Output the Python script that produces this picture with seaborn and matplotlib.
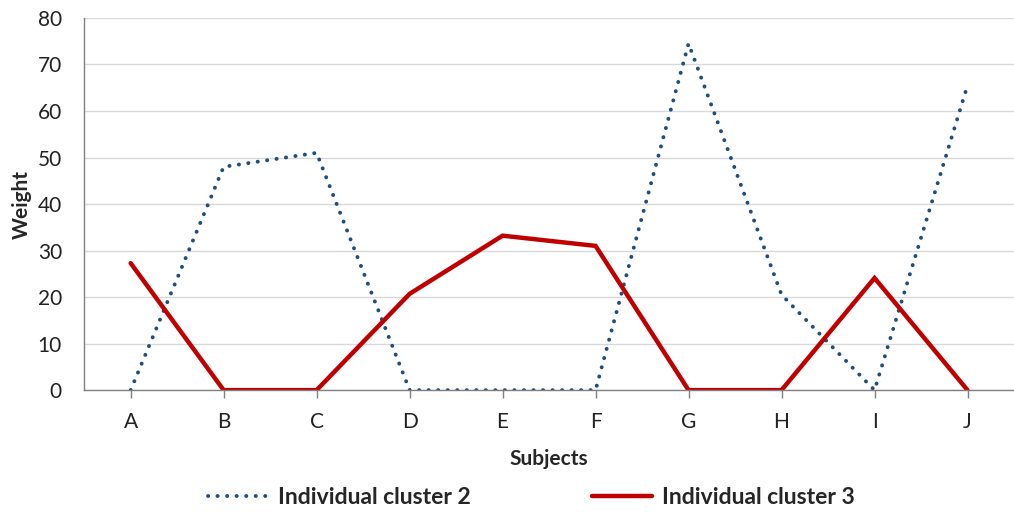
import matplotlib
matplotlib.use("Agg")
import matplotlib.pyplot as plt
import seaborn as sns
import pandas as pd
from matplotlib.lines import Line2D

subjects = ["A", "B", "C", "D", "E", "F", "G", "H", "I", "J"]
cluster2 = [0, 48, 51, 0, 0, 0, 74.5, 20.5, 0, 65.5]
cluster3 = [27.3, 0, 0, 20.7, 33.2, 31.0, 0, 0, 24.1, 0]
series_names = ["Individual cluster 2", "Individual cluster 3"]
y_ticks = [0, 10, 20, 30, 40, 50, 60, 70, 80]

df = pd.DataFrame({
    "Subjects": subjects * 2,
    "Weight": cluster2 + cluster3,
    "Series": [series_names[0]] * len(subjects) + [series_names[1]] * len(subjects),
})

sns.set_theme(style="white")
plt.rcParams["font.family"] = ["Lato", "DejaVu Sans"]

fig = plt.figure(figsize=(10.14, 5.12), dpi=100)
ax = fig.add_axes([0.083, 0.238, 0.917, 0.727])

blue = "#1F4E79"
red = "#C00000"
dot_style = (0, (0.05, 2.4))
palette = {series_names[0]: blue, series_names[1]: red}
sns.lineplot(data=df, x="Subjects", y="Weight", hue="Series", palette=palette,
             sort=False, ax=ax, legend=False)

lines = ax.get_lines()
lines[0].set_linestyle(dot_style)
lines[0].set_linewidth(2.8)
lines[0].set_dash_capstyle("round")
lines[1].set_linewidth(3.2)
lines[1].set_solid_joinstyle("miter")

ax.set_xlim(-0.5, len(subjects) - 0.5)
ax.set_ylim(0, 80)
ax.set_yticks(y_ticks)
ax.yaxis.grid(True, color="#D9D9D9", linewidth=1)
ax.set_axisbelow(True)
for s in ["top", "right"]:
    ax.spines[s].set_visible(False)
for s in ["left", "bottom"]:
    ax.spines[s].set_color("#808080")
    ax.spines[s].set_linewidth(1)

ax.tick_params(axis="x", bottom=True, length=6, width=1, color="#808080",
               labelsize=15, pad=10, labelcolor="#222222")
ax.tick_params(axis="y", left=False, labelsize=15, pad=10, labelcolor="#222222")

ax.set_xlabel("Subjects", fontsize=15, fontweight="bold", labelpad=12)
ax.set_ylabel("Weight", fontsize=15, fontweight="bold", labelpad=4)

handles = [
    Line2D([], [], color=blue, linestyle=dot_style, linewidth=2.8,
           dash_capstyle="round"),
    Line2D([], [], color=red, linewidth=3.2),
]
fig.legend(handles, series_names, loc="center", bbox_to_anchor=(0.524, 0.029),
           ncol=2, frameon=False, handlelength=2.6, handletextpad=0.45,
           columnspacing=5.3, prop={"size": 16.5, "weight": "bold"})

fig.savefig("out.png", dpi=100)
